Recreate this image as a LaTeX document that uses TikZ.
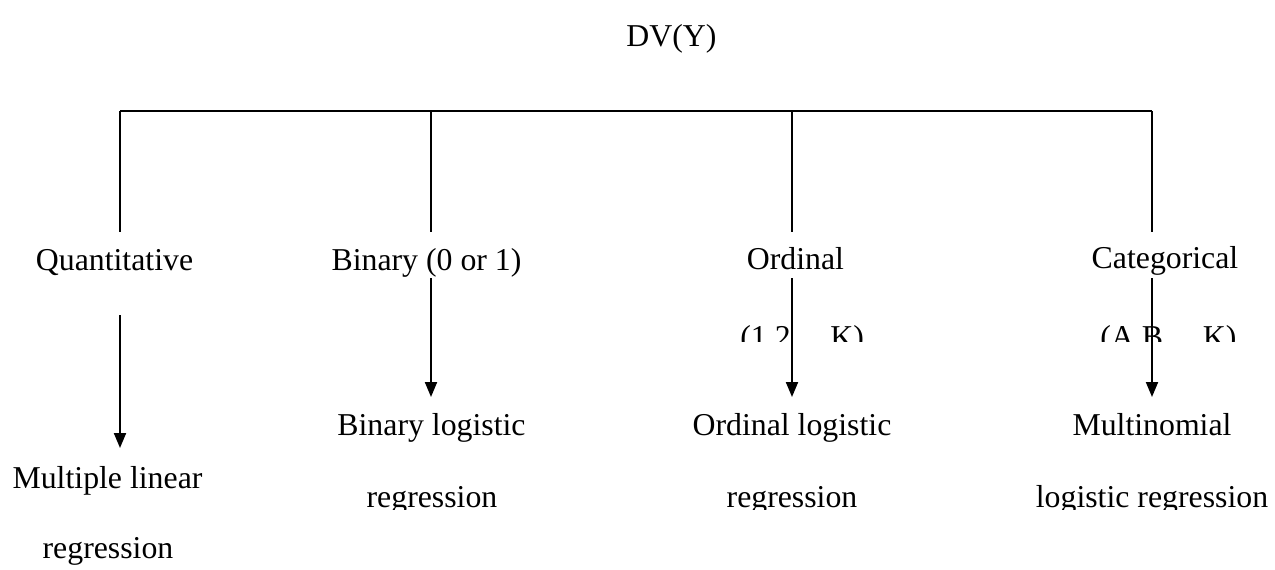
\documentclass[tikz,border=0pt]{standalone}
\usepackage{fontspec}
\setmainfont{Liberation Serif}
\usetikzlibrary{arrows.meta}
\begin{document}
\begin{tikzpicture}[x=0.5pt,y=-0.5pt,
  lbl/.style={anchor=base,inner sep=0pt,font=\fontsize{15.9}{19}\selectfont},
  lbll/.style={anchor=base west,inner sep=0pt,font=\fontsize{15.9}{19}\selectfont},
  tree/.style={line width=1pt},
  arr/.style={line width=1pt,-{Triangle[width=6pt,length=7.5pt]}}]
\useasboundingbox (0,0) rectangle (1275,569);
% root
\node[lbl] (root) at (671.5,46) {DV(Y)};
% bar and drops
\coordinate (b1) at (120,111);
\coordinate (b2) at (431,111);
\coordinate (b3) at (792,111);
\coordinate (b4) at (1152,111);
\coordinate (d1) at (120,232);
\coordinate (d2) at (431,232);
\coordinate (d3) at (792,232);
\coordinate (d4) at (1152,232);
\draw[tree] (b1) -- (b4);
\draw[tree] (b1) -- (d1);
\draw[tree] (b2) -- (d2);
\draw[tree] (b3) -- (d3);
\draw[tree] (b4) -- (d4);
% level labels
\node[lbl] (quant) at (114.5,270) {Quantitative};
\node[lbl] (bin) at (426.5,270) {Binary (0 or 1)};
\node[lbl] (ord) at (795.5,269) {Ordinal};
\node[lbl] (cat) at (1165,268) {Categorical};
\begin{scope}
\clip (700,300) rectangle (1275,341);
\node[lbll] (ordr) at (740,347) {(1,2,...,K)};
\node[lbll] (catr) at (1100,347) {(A,B,...,K)};
\end{scope}
% results
\node[lbl] (mlr1) at (107.5,488) {Multiple linear};
\node[lbl] (mlr2) at (108,558) {regression};
\node[lbl] (blr1) at (431.5,435) {Binary logistic};
\node[lbl] (olr1) at (792,435) {Ordinal logistic};
\node[lbl] (mnl1) at (1152,435) {Multinomial};
\begin{scope}
\clip (300,470) rectangle (1275,509);
\node[lbl] (blr2) at (432,507) {regression};
\node[lbl] (olr2) at (792,507) {regression};
\node[lbl] (mnl2) at (1152,507) {logistic regression};
\end{scope}
% arrows
\coordinate (s1) at (120,315);
\coordinate (t1) at (120,448);
\coordinate (s2) at (431,278);
\coordinate (t2) at (431,397);
\coordinate (s3) at (792,278);
\coordinate (t3) at (792,397);
\coordinate (s4) at (1152,278);
\coordinate (t4) at (1152,397);
\draw[arr] (s1) -- (t1);
\draw[arr] (s2) -- (t2);
\draw[arr] (s3) -- (t3);
\draw[arr] (s4) -- (t4);
\end{tikzpicture}
\end{document}
